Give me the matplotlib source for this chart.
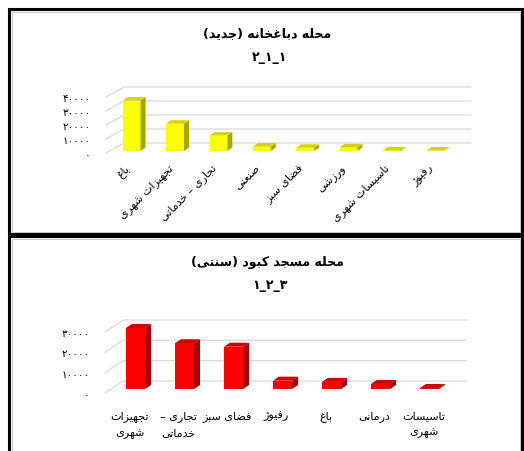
import textwrap

import matplotlib
matplotlib.use("Agg")
import matplotlib.pyplot as plt
import numpy as np
from matplotlib import font_manager
from matplotlib.ft2font import FT2Font
from matplotlib.lines import Line2D
from matplotlib.patches import Polygon, Rectangle
from matplotlib.transforms import IdentityTransform, offset_copy

# ---- data ----
top_title = "محله دباغخانه (جدید)"
top_number = "۱_۱_۲"
top_categories = ["باغ", "تجهیزات شهری", "تجاری – خدماتی", "صنعتی",
                  "فضای سبز", "ورزشی", "تاسیسات شهری", "رفیوژ"]
top_values = [36000, 19500, 11000, 3100, 2300, 2600, 400, 300]
top_ticks = [0, 10000, 20000, 30000, 40000]

bottom_title = "محله مسجد کبود (سنتی)"
bottom_number = "۳_۲_۱"
bottom_categories = ["تجهیزات شهری", "تجاری – خدماتی", "فضای سبز", "رفیوژ",
                     "باغ", "درمانی", "تاسیسات شهری"]
bottom_values = [30000, 22500, 20800, 4100, 3500, 2500, 500]
bottom_ticks = [0, 10000, 20000, 30000]

# ---- minimal arabic/persian shaping (matplotlib does no shaping) ----
FORMS = {
    "ا": ("\uFE8D", "\uFE8E"), "د": ("\uFEA9", "\uFEAA"), "ذ": ("\uFEAB", "\uFEAC"),
    "ر": ("\uFEAD", "\uFEAE"), "ز": ("\uFEAF", "\uFEB0"), "ژ": ("\uFB8A", "\uFB8B"),
    "و": ("\uFEED", "\uFEEE"),
    "ب": ("\uFE8F", "\uFE90", "\uFE91", "\uFE92"), "ت": ("\uFE95", "\uFE96", "\uFE97", "\uFE98"),
    "ج": ("\uFE9D", "\uFE9E", "\uFE9F", "\uFEA0"), "ح": ("\uFEA1", "\uFEA2", "\uFEA3", "\uFEA4"),
    "خ": ("\uFEA5", "\uFEA6", "\uFEA7", "\uFEA8"), "س": ("\uFEB1", "\uFEB2", "\uFEB3", "\uFEB4"),
    "ش": ("\uFEB5", "\uFEB6", "\uFEB7", "\uFEB8"), "ص": ("\uFEB9", "\uFEBA", "\uFEBB", "\uFEBC"),
    "ض": ("\uFEBD", "\uFEBE", "\uFEBF", "\uFEC0"), "ع": ("\uFEC9", "\uFECA", "\uFECB", "\uFECC"),
    "غ": ("\uFECD", "\uFECE", "\uFECF", "\uFED0"), "ف": ("\uFED1", "\uFED2", "\uFED3", "\uFED4"),
    "ق": ("\uFED5", "\uFED6", "\uFED7", "\uFED8"), "ل": ("\uFEDD", "\uFEDE", "\uFEDF", "\uFEE0"),
    "م": ("\uFEE1", "\uFEE2", "\uFEE3", "\uFEE4"), "ن": ("\uFEE5", "\uFEE6", "\uFEE7", "\uFEE8"),
    "ه": ("\uFEE9", "\uFEEA", "\uFEEB", "\uFEEC"), "ی": ("\uFBFC", "\uFBFD", "\uFBFE", "\uFBFF"),
    "ک": ("\uFB8E", "\uFB8F", "\uFB90", "\uFB91"),
}

regular_path = font_manager.findfont(font_manager.FontProperties(family="DejaVu Sans"))
bold_path = font_manager.findfont(font_manager.FontProperties(family="DejaVu Sans", weight="bold"))
cmap_regular = FT2Font(regular_path).get_charmap()
cmap_bold = FT2Font(bold_path).get_charmap()


def shape(text, cmap=cmap_regular):
    out = []
    for i, ch in enumerate(text):
        f = FORMS.get(ch)
        if f is None:
            out.append(ch)
            continue
        prev = text[i - 1] if i > 0 else ""
        nxt = text[i + 1] if i + 1 < len(text) else ""
        jp = prev in FORMS and len(FORMS[prev]) == 4
        jn = len(f) == 4 and nxt in FORMS
        if jp and jn:
            g = f[3]
        elif jp:
            g = f[1]
        elif jn:
            g = f[2]
        else:
            g = f[0]
        out.append(g if ord(g) in cmap else ch)
    s = "".join(out)[::-1]
    return s.translate(str.maketrans("()", ")("))


def fa_digits(v):
    return str(v).translate(str.maketrans("0123456789", "۰۱۲۳۴۵۶۷۸۹"))


W, H = 524, 452
fig = plt.figure(figsize=(W / 100, H / 100), dpi=100)
fig.patch.set_facecolor("white")


def px_axes(x0, x1, y0, y1):
    # pixel box measured from the top-left of the picture
    return fig.add_axes([x0 / W, 1 - y0 / H, (x1 - x0) / W, (y0 - y1) / H])


def draw_panel(ax, cats, vals, ticks, colors, bar_w, bar_off, depth, back, rotate):
    n = len(cats)
    x = np.arange(n)
    ax.set_xlim(-0.5, n - 0.5)
    ax.set_ylim(0, ticks[-1])
    for s in ax.spines.values():
        s.set_visible(False)
    ax.patch.set_alpha(0)
    ax.tick_params(length=0)

    # back wall gridlines + floor diagonals
    for t in ticks:
        fx, fy = ax.transData.transform((-0.5, t))
        rx, _ = ax.transData.transform((n - 0.5, t))
        ax.add_line(Line2D([fx, fx + back[0], rx + back[0]], [fy, fy + back[1], fy + back[1]],
                           transform=IdentityTransform(), color="#d9d9d9", lw=0.9,
                           zorder=1, clip_on=False))

    off = offset_copy(ax.transData, fig=fig, x=bar_off[0], y=bar_off[1], units="dots")
    bars = ax.bar(x, vals, width=bar_w, color=colors[0], transform=off, zorder=3,
                  clip_on=False, linewidth=0)
    dx, dy = depth
    for b in bars:
        x0, y0 = off.transform((b.get_x(), 0))
        x1, y1 = off.transform((b.get_x() + b.get_width(), b.get_height()))
        side = Polygon([(x1, y0), (x1 + dx, y0 + dy), (x1 + dx, y1 + dy), (x1, y1)],
                       closed=True, transform=IdentityTransform(), facecolor=colors[1],
                       edgecolor="none", zorder=3, clip_on=False)
        top = Polygon([(x0, y1), (x1, y1), (x1 + dx, y1 + dy), (x0 + dx, y1 + dy)],
                      closed=True, transform=IdentityTransform(), facecolor=colors[2],
                      edgecolor="none", zorder=3, clip_on=False)
        ax.add_patch(side)
        ax.add_patch(top)

    ax.set_yticks(ticks, [fa_digits(t) for t in ticks], fontsize=7.5)
    ax.tick_params(axis="y", pad=11)
    if rotate:
        ax.set_xticks(x, [shape(c) for c in cats], fontsize=8, rotation=45,
                      ha="right", va="center", rotation_mode="anchor")
        ax.tick_params(axis="x", pad=9)
    else:
        labels = ["\n".join(shape(l) for l in textwrap.wrap(c, 8)) for c in cats]
        ax.set_xticks(x, labels, fontsize=8, linespacing=1.85, va="top")
        ax.tick_params(axis="x", pad=12)


# top panel
ax1 = px_axes(106, 453, 154, 98)
draw_panel(ax1, top_categories, top_values, top_ticks,
           ("#FFFF00", "#A6A600", "#D4D400"), 0.41, (4, 2), (5, 3.5), (18, 10), True)
fig.text(267 / W, 1 - 34 / H, shape(top_title, cmap_bold), ha="center", va="center",
         fontsize=9, fontweight="bold")
fig.text(270 / W, 1 - 57 / H, shape(top_number, cmap_bold), ha="center", va="center",
         fontsize=9, fontweight="bold")

# bottom panel
ax2 = px_axes(105, 448, 394, 333)
draw_panel(ax2, bottom_categories, bottom_values, bottom_ticks,
           ("#FF0000", "#A80000", "#D00000"), 0.39, (6, 4), (6, 4), (18, 12), False)
fig.text(267 / W, 1 - 263 / H, shape(bottom_title, cmap_bold), ha="center", va="center",
         fontsize=9, fontweight="bold")
fig.text(270 / W, 1 - 286 / H, shape(bottom_number, cmap_bold), ha="center", va="center",
         fontsize=9, fontweight="bold")

# panel frames (pixel boxes)
for (x0, y0, x1, y1) in [(9, 10, 522, 235), (9, 237, 522, 470)]:
    fig.add_artist(Rectangle((x0 / W, 1 - y1 / H), (x1 - x0) / W, (y1 - y0) / H,
                             transform=fig.transFigure, fill=False, edgecolor="black",
                             linewidth=2.2, clip_on=False))
    fig.add_artist(Rectangle(((x0 + 2.5) / W, 1 - (y1 - 2.5) / H), (x1 - x0 - 5) / W,
                             (y1 - y0 - 5) / H, transform=fig.transFigure, fill=False,
                             edgecolor="#c8c8c8", linewidth=0.7, clip_on=False))

fig.savefig("out.png", dpi=100)
